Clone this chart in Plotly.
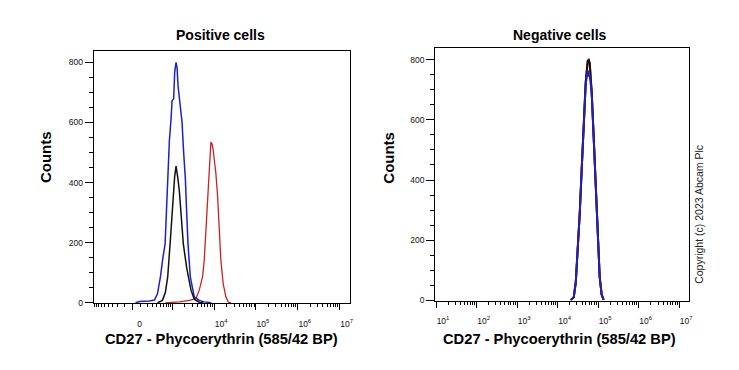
import numpy as np
import plotly.graph_objects as go

# ---------------- data ----------------
# Positive cells: fluorescence intensity (PE) vs counts
pos_blue_x = [37, 88, 240, 341, 413, 496, 575, 654, 705, 760, 837, 921, 975, 1066, 1128, 1219, 1289,
              1363, 1522, 1701, 1858, 2041, 2193, 2368, 2689, 3349, 4409, 5800, 8515]
pos_blue_y = [0, 4, 6, 9, 30, 86, 150, 196, 300, 415, 540, 612, 673, 678, 767, 800, 783,
              722, 656, 601, 502, 415, 306, 196, 86, 20, 8, 3, 0]

pos_black_x = [413, 559, 666, 760, 871, 975, 1049, 1128, 1219, 1275, 1333, 1465, 1609, 1828,
               2193, 2448, 2793, 3349, 4409, 5490]
pos_black_y = [0, 8, 35, 86, 196, 306, 372, 420, 455, 440, 420, 372, 306, 196,
               118, 80, 42, 12, 2, 0]

pos_red_x = [666, 1465, 2544, 3678, 4409, 5284, 5800, 6366, 6949, 7628, 8374, 8846, 9500, 10201,
             11017, 12029, 13200, 14493, 16442, 19062, 21986, 25491]
pos_red_y = [0, 3, 8, 14, 42, 86, 142, 251, 360, 450, 535, 530, 509, 470,
             430, 360, 251, 141, 64, 20, 2, 0]

# Negative cells
neg_x = [21100, 25000, 28000, 31300, 35100, 39300, 44000, 49200, 55200, 58400, 61800, 69200,
         77500, 86800, 97200, 108900, 121900, 136500]
neg_black_y = [0, 10, 60, 158, 290, 440, 592, 725, 797, 800, 790, 692, 542, 376, 210, 77, 18, 1]
neg_red_y = [0, 10, 60, 158, 290, 440, 592, 725, 795, 798, 788, 692, 542, 376, 210, 77, 18, 1]
neg_blue_y = [0, 10, 58, 155, 288, 438, 590, 718, 765, 745, 750, 690, 540, 375, 208, 76, 18, 1]

# tick labels
left_major_vals = [-1000, 0, 1000, 1e4, 1e5, 1e6, 1e7]
left_major_text = ["", "0", "", "10<sup>4</sup>", "10<sup>5</sup>", "10<sup>6</sup>", "10<sup>7</sup>"]
right_major_vals = [1e1, 1e2, 1e3, 1e4, 1e5, 1e6, 1e7]
right_major_text = ["10<sup>%d</sup>" % k for k in range(1, 8)]
y_ticks = [0, 200, 400, 600, 800]

# ---------------- biexponential-like display transform for left axis ----------------
W = 112.0


def biex(v):
    v = np.asarray(v, dtype=float)
    return np.arcsinh(v / (2 * W)) / np.log(10) + np.log10(W)


left_minor = []
for k in range(1, 10):
    left_minor += [-k * 100, k * 100, -k * 1000]
for n in range(3, 7):
    for k in range(2, 10):
        left_minor.append(k * 10 ** n)
right_minor = [k * 10 ** n for n in range(1, 7) for k in range(2, 10)]

BLUE = "#1f1fcc"
RED = "#cc2222"
BLACK = "#111111"
FONT = "Liberation Sans, Arial, sans-serif"

fig = go.Figure()

# Left panel
fig.add_trace(go.Scatter(x=biex(pos_red_x), y=pos_red_y, mode="lines",
                         line=dict(color=RED, width=1.3), xaxis="x", yaxis="y", showlegend=False))
fig.add_trace(go.Scatter(x=biex(pos_blue_x), y=pos_blue_y, mode="lines",
                         line=dict(color=BLUE, width=1.5), xaxis="x", yaxis="y", showlegend=False))
fig.add_trace(go.Scatter(x=biex(pos_black_x), y=pos_black_y, mode="lines",
                         line=dict(color=BLACK, width=1.5), xaxis="x", yaxis="y", showlegend=False))

# Right panel
fig.add_trace(go.Scatter(x=neg_x, y=neg_red_y, mode="lines",
                         line=dict(color=RED, width=2), xaxis="x2", yaxis="y2", showlegend=False))
fig.add_trace(go.Scatter(x=neg_x, y=neg_black_y, mode="lines",
                         line=dict(color=BLACK, width=2), xaxis="x2", yaxis="y2", showlegend=False))
fig.add_trace(go.Scatter(x=neg_x, y=neg_blue_y, mode="lines",
                         line=dict(color="#2020bb", width=2), xaxis="x2", yaxis="y2", showlegend=False))

H = 370.0
tickfont = dict(family=FONT, size=8.5, color="#111")

common_x = dict(showline=True, linecolor="black", linewidth=1, mirror=True, showgrid=False,
                zeroline=False, ticks="outside", ticklen=6, tickwidth=1.2, tickcolor="black",
                tickfont=tickfont, ticklabelshift=7, ticklabelstandoff=6, fixedrange=True)
common_y = dict(showline=True, linecolor="black", linewidth=1, mirror=True, showgrid=False,
                zeroline=False, ticks="outside", ticklen=8, tickwidth=1.2, tickcolor="black",
                tickfont=tickfont, range=[-2, 838], tickmode="array", tickvals=y_ticks,
                minor=dict(ticks="outside", ticklen=4, dtick=50, tickcolor="black", tickwidth=1),
                fixedrange=True)

fig.update_layout(
    width=739, height=370,
    margin=dict(l=0, r=0, t=0, b=0),
    paper_bgcolor="white", plot_bgcolor="white",
    xaxis=dict(domain=[94 / 739, 351 / 739], anchor="y", range=[1.119, 7.238],
               tickmode="array", tickvals=list(biex(left_major_vals)), ticktext=left_major_text,
               minor=dict(ticks="outside", ticklen=3, tickvals=list(biex(left_minor)),
                          tickcolor="black", tickwidth=1),
               **common_x),
    yaxis=dict(domain=[1 - 306.7 / H, 1 - 51.5 / H], anchor="x", **common_y),
    xaxis2=dict(domain=[437 / 739, 692 / 739], anchor="y2", type="log", range=[0.98, 7.245],
                tickmode="array", tickvals=right_major_vals, ticktext=right_major_text,
                minor=dict(ticks="outside", ticklen=3, tickvals=right_minor,
                           tickcolor="black", tickwidth=1),
                **common_x),
    yaxis2=dict(domain=[1 - 304 / H, 1 - 49 / H], anchor="x2", **common_y),
)

title_font = dict(family=FONT, size=14, color="black")
axis_font = dict(family=FONT, size=14.7, color="black")
ann = [
    dict(text="<b>Positive cells</b>", x=221 / 739, y=1 - 35 / H, font=title_font),
    dict(text="<b>Negative cells</b>", x=562 / 739, y=1 - 35 / H, font=title_font),
    dict(text="<b>CD27 - Phycoerythrin (585/42 BP)</b>", x=222 / 739, y=1 - 343 / H, font=axis_font),
    dict(text="<b>CD27 - Phycoerythrin (585/42 BP)</b>", x=562 / 739, y=1 - 343 / H, font=axis_font),
    dict(text="<b>Counts</b>", x=45 / 739, y=1 - 159 / H, font=dict(family=FONT, size=15, color="black"),
         textangle=-90),
    dict(text="<b>Counts</b>", x=390 / 739, y=1 - 159 / H, font=dict(family=FONT, size=15, color="black"),
         textangle=-90),
    dict(text="Copyright (c) 2023 Abcam Plc", x=701 / 739, y=1 - 217 / H,
         font=dict(family=FONT, size=10.5, color="#222"), textangle=-90),
]
for a in ann:
    a.update(xref="paper", yref="paper", showarrow=False, xanchor="center", yanchor="middle")
fig.update_layout(annotations=ann)

fig.write_html("out.html", config={"displayModeBar": False},
               post_script="document.body.style.margin='0';document.body.style.padding='0';")
